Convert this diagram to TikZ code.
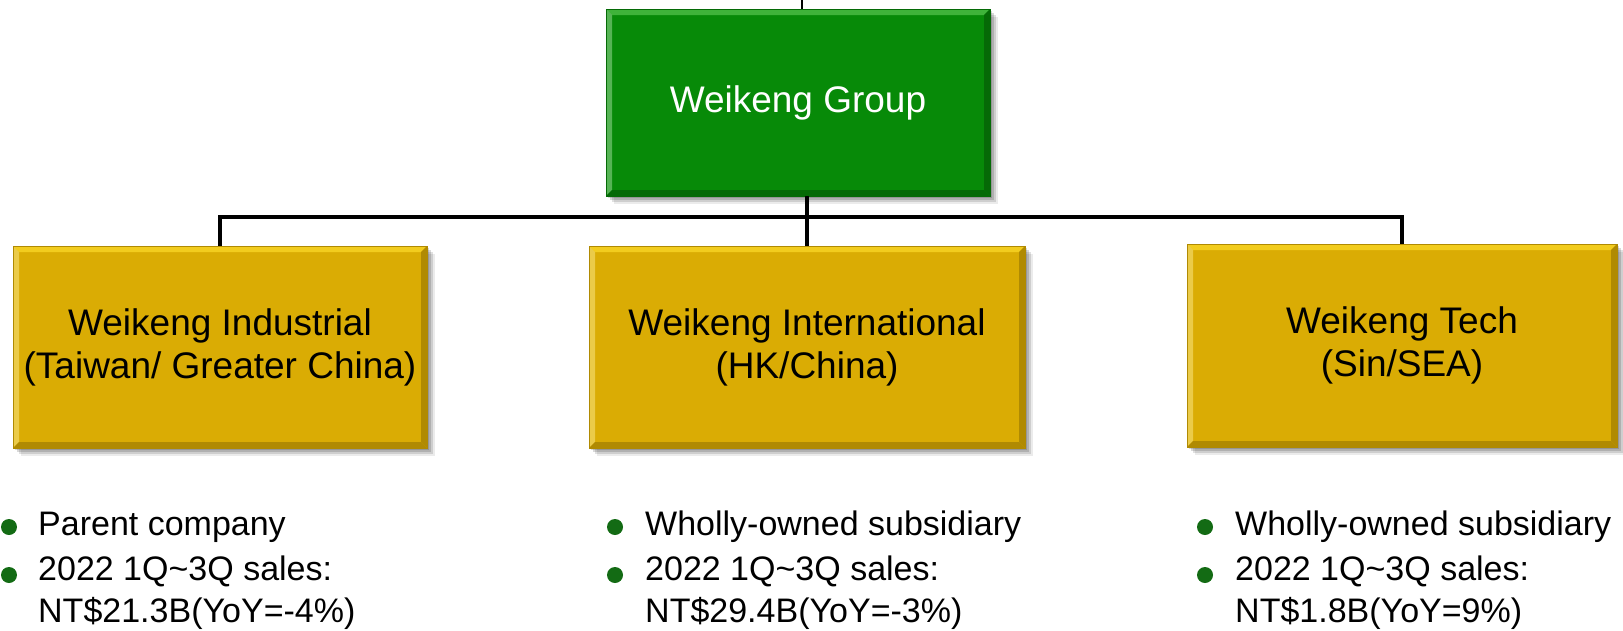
\documentclass[tikz,border=0pt]{standalone}
\usepackage{fontspec}
\setmainfont{Liberation Sans}
\definecolor{grfill}{HTML}{078A08}
\definecolor{grlight}{HTML}{3FB33A}
\definecolor{grdark}{HTML}{056A06}
\definecolor{ylfill}{HTML}{DAAC04}
\definecolor{yllight}{HTML}{F2CC1E}
\definecolor{yldark}{HTML}{B08A02}
\definecolor{dotgreen}{HTML}{136B14}
\tikzset{
  softshadow/.style={
    preaction={fill=black,opacity=0.15,transform canvas={xshift=2pt,yshift=-2pt}},
    preaction={fill=black,opacity=0.15,transform canvas={xshift=4pt,yshift=-4pt}},
    preaction={fill=black,opacity=0.12,transform canvas={xshift=6pt,yshift=-6pt}},
    preaction={fill=black,opacity=0.08,transform canvas={xshift=8pt,yshift=-8pt}}},
  bevel/.style n args={2}{path picture={
    \fill[#1] (path picture bounding box.north west) -- (path picture bounding box.north east)
      -- ([xshift=-6pt,yshift=-6pt]path picture bounding box.north east)
      -- ([xshift=6pt,yshift=-6pt]path picture bounding box.north west) -- cycle;
    \fill[#1!60!white,opacity=0.6] (path picture bounding box.north west) -- ([xshift=6pt,yshift=-6pt]path picture bounding box.north west)
      -- ([xshift=6pt,yshift=6pt]path picture bounding box.south west) -- (path picture bounding box.south west) -- cycle;
    \fill[#2] (path picture bounding box.south west) -- (path picture bounding box.south east)
      -- ([xshift=-6pt,yshift=6pt]path picture bounding box.south east)
      -- ([xshift=6pt,yshift=6pt]path picture bounding box.south west) -- cycle;
    \fill[#2] (path picture bounding box.north east) -- ([xshift=-6pt,yshift=-6pt]path picture bounding box.north east)
      -- ([xshift=-6pt,yshift=6pt]path picture bounding box.south east) -- (path picture bounding box.south east) -- cycle;
  }},
  topbox/.style={rectangle, softshadow, fill=grfill, draw=grdark, line width=0.8pt,
    bevel={grlight}{grdark}, text=white, align=center,
    font=\fontsize{37}{43}\selectfont, inner sep=0pt},
  subbox/.style={rectangle, softshadow, fill=ylfill, draw=yldark, line width=0.8pt,
    bevel={yllight}{yldark}, text=black, align=center,
    font=\fontsize{37}{43}\selectfont, inner sep=0pt},
  conn/.style={line width=4pt, draw=black},
  bdot/.style={circle, fill=dotgreen, minimum size=16pt, inner sep=0pt, outer sep=0pt},
  btext/.style={anchor=base west, inner sep=0pt, font=\fontsize{34}{41}\selectfont}
}
\begin{document}
\begin{tikzpicture}[x=1pt,y=-1pt]
\useasboundingbox (0,0) rectangle (1623,630);
% nodes
\node[topbox, minimum width=384pt, minimum height=187pt] (top) at (798,102.5) {Weikeng Group};
\node[subbox, minimum width=414pt, minimum height=202pt] (ind) at (220,347) {Weikeng Industrial\\(Taiwan/ Greater China)};
\node[subbox, minimum width=436pt, minimum height=202pt] (intl) at (807,347) {Weikeng International\\(HK/China)};
\node[subbox, minimum width=430pt, minimum height=203pt] (tech) at (1402,345.5) {Weikeng Tech\\(Sin/SEA)};
% connectors
\coordinate (tick) at (802,0);
\draw[line width=1.5pt] (tick) -- (tick |- top.north);
\coordinate (bus) at (807,217);
\draw[conn] (ind.north) |- (bus) -| (tech.north);
\draw[conn] (top.south -| intl.north) -- (intl.north);
% bullets left
\node[bdot] (l1) at (9,527) {};
\node[btext] (lt1) at (38,535) {Parent company};
\node[bdot] (l2) at (9,575) {};
\node[btext] (lt2) at (38,580) {2022 1Q\textasciitilde 3Q sales:};
\node[btext] (lt3) at (38,622) {NT\$21.3B(YoY=-4\%)};
% bullets middle
\node[bdot] (m1) at (615,527) {};
\node[btext] (mt1) at (645,535) {Wholly-owned subsidiary};
\node[bdot] (m2) at (615,575) {};
\node[btext] (mt2) at (645,580) {2022 1Q\textasciitilde 3Q sales:};
\node[btext] (mt3) at (645,622) {NT\$29.4B(YoY=-3\%)};
% bullets right
\node[bdot] (r1) at (1205,527) {};
\node[btext] (rt1) at (1235,535) {Wholly-owned subsidiary};
\node[bdot] (r2) at (1205,575) {};
\node[btext] (rt2) at (1235,580) {2022 1Q\textasciitilde 3Q sales:};
\node[btext] (rt3) at (1235,622) {NT\$1.8B(YoY=9\%)};
\end{tikzpicture}
\end{document}
